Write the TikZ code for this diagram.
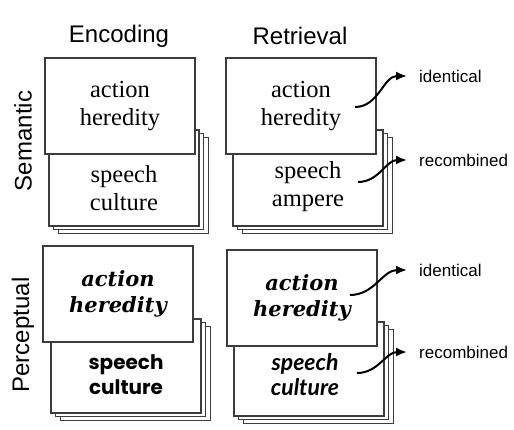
\documentclass[tikz,border=0pt]{standalone}
\usepackage{fontspec}
\setmainfont{Liberation Serif}
\setsansfont{Liberation Sans}
\newfontfamily\printfont{DejaVu Serif}
\newfontfamily\roundfont{Poppins}
\newfontfamily\heavyfont{Lato}
\usetikzlibrary{arrows.meta,shadows}
\definecolor{cardLine}{HTML}{3C3C3C}

\begin{document}
\begin{tikzpicture}[x=1pt, y=-1pt,
    every node/.style={inner sep=0pt},
    card/.style={draw=cardLine, fill=white, line width=1.2pt,
      minimum width=150pt, minimum height=96pt},
    stack/.style={card,
      copy shadow={shadow xshift=9pt, shadow yshift=-7pt, draw=cardLine, fill=white, line width=1pt},
      copy shadow={shadow xshift=4.5pt, shadow yshift=-3.5pt, draw=cardLine, fill=white, line width=1pt}},
    heading/.style={font=\sffamily\fontsize{24}{28}\selectfont},
    rowlabel/.style={heading, rotate=90},
    words/.style={align=center, font=\fontsize{24.5}{28}\selectfont},
    outcome/.style={anchor=west, inner xsep=12pt, font=\sffamily\fontsize{17}{20}\selectfont},
    link/.style={-{Latex[length=11pt,width=9pt]}, line width=2pt, out=0, in=180},
  ]
  \useasboundingbox (0,0) rectangle (514,429);

  % Column and row headings
  \node[heading] (encHead) at (119,36) {Encoding};
  \node[heading] (retHead) at (300,36) {Retrieval};
  \node[rowlabel] (semHead) at (23,141) {Semantic};
  \node[rowlabel] (perHead) at (23,335) {Perceptual};

  % Semantic row
  \node[stack] (encSemBack) at (124,178) {};
  \node[card, words] (encSemFront) at (120,106) {action\\heredity};
  \node[words] (encSemLow) at (124,188) {speech\\culture};

  \node[stack] (retSemBack) at (308,178) {};
  \node[card, words] (retSemFront) at (301,106) {action\\heredity};
  \node[words] (retSemLow) at (308,187) {speech\\ampere};

  % Perceptual row
  \node[stack, minimum height=94pt] (encPerBack) at (126,366) {};
  \node[card, words, font=\printfont\bfseries\itshape\fontsize{21}{26}\selectfont]
    (encPerFront) at (118,294) {action\\heredity};
  \node[words, font=\roundfont\bfseries\fontsize{20}{25}\selectfont] (encPerLow) at (126,375) {speech\\culture};

  \node[stack, minimum height=94pt] (retPerBack) at (309,369) {};
  \node[card, words, font=\printfont\bfseries\itshape\fontsize{21}{26}\selectfont]
    (retPerFront) at (302,298) {action\\heredity};
  \node[words, font=\heavyfont\bfseries\itshape\fontsize{23}{25}\selectfont] (retPerLow) at (305,375) {speech\\culture};

  % Outcomes
  \node[outcome] (semSame) at (407,76) {identical};
  \node[outcome] (semMixed) at (407,160) {recombined};
  \node[outcome] (perSame) at (407,270) {identical};
  \node[outcome] (perMixed) at (407,352) {recombined};

  \coordinate (semSameFrom) at (355,107);
  \coordinate (semMixedFrom) at (358,182);
  \coordinate (perSameFrom) at (350,295);
  \coordinate (perMixedFrom) at (357,373);

  \draw[link] (semSameFrom) to (semSame.west);
  \draw[link] (semMixedFrom) to (semMixed.west);
  \draw[link] (perSameFrom) to (perSame.west);
  \draw[link] (perMixedFrom) to (perMixed.west);
\end{tikzpicture}
\end{document}
